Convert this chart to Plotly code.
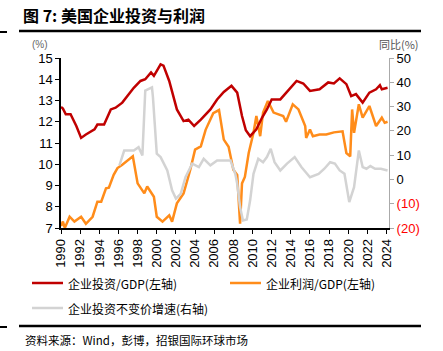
import plotly.graph_objects as go

# ---- data ----
inv_x = [1990.0, 1990.2, 1990.5, 1991.0, 1991.6, 1992.1, 1992.6, 1993.0, 1993.5, 1993.8, 1994.5,
         1995.2, 1995.7, 1996.4, 1997.1, 1997.6, 1998.3, 1998.8, 1999.4, 1999.7, 2000.4, 2000.7,
         2001.3, 2002.1, 2002.8, 2003.3, 2003.9, 2004.6, 2005.6, 2006.3, 2007.0, 2007.8, 2008.4,
         2008.9, 2009.3, 2009.75, 2010.4, 2011.0, 2011.5, 2012.0, 2012.9, 2013.7, 2014.6, 2015.3,
         2016.0, 2017.0, 2017.9, 2018.5, 2019.1, 2019.8, 2020.3, 2020.8, 2021.5, 2022.2, 2022.9,
         2023.3, 2023.5, 2024.1]
inv_y = [12.7, 12.62, 12.35, 12.35, 11.8, 11.24, 11.4, 11.5, 11.64, 11.87, 11.87,
         12.58, 12.66, 12.9, 13.3, 13.6, 13.92, 14.0, 14.32, 14.16, 14.7, 14.64,
         13.92, 12.58, 12.03, 12.1, 11.8, 12.1, 12.58, 13.05, 13.4, 13.69, 13.37,
         12.27, 11.6, 11.32, 11.64, 12.2, 12.58, 13.05, 13.05, 13.45, 13.92, 13.8,
         13.45, 13.53, 13.85, 13.8, 14.04, 13.77, 13.21, 13.3, 12.9, 13.37, 13.53,
         13.72, 13.53, 13.6]

prof_x = [1990.0, 1990.2, 1990.4, 1990.9, 1991.4, 1992.1, 1992.6, 1993.3, 1993.8, 1994.2, 1994.7,
          1995.0, 1995.5, 1995.9, 1996.4, 1997.0, 1997.5, 1998.0, 1998.7, 1999.0, 1999.7, 2000.0,
          2000.6, 2001.3, 2001.6, 2002.1, 2002.8, 2003.5, 2004.0, 2004.6, 2005.1, 2005.9, 2006.5,
          2007.0, 2007.5, 2008.0, 2008.4, 2008.7, 2008.9, 2009.2, 2009.6, 2010.1, 2010.4, 2010.8,
          2011.1, 2011.6, 2012.2, 2013.2, 2013.5, 2014.2, 2014.8, 2015.5, 2015.6, 2016.0, 2016.3,
          2017.0, 2017.7, 2018.5, 2019.4, 2019.8, 2020.2, 2020.4, 2020.6, 2021.1, 2021.5, 2022.2,
          2022.9, 2023.5, 2023.8, 2024.1]
prof_y = [7.1, 7.3, 7.0, 7.53, 7.3, 7.53, 7.2, 7.53, 8.24, 8.24, 8.87,
          8.9, 9.5, 9.82, 9.98, 10.2, 10.37, 9.1, 8.63, 8.95, 8.47, 7.53,
          7.3, 7.6, 7.3, 8.16, 8.63, 9.74, 10.69, 10.84, 11.62, 12.4, 12.55,
          11.16, 10.82, 9.74, 9.5, 7.2, 9.1, 9.4, 10.53, 11.48, 12.27, 11.32,
          12.43, 12.98, 12.43, 12.27, 12.0, 12.82, 12.58, 11.8, 11.24, 11.64, 11.32,
          11.4, 11.4, 11.5, 11.55, 10.53, 10.37, 12.58, 11.48, 12.82, 12.19, 12.74,
          11.8, 12.19, 11.95, 12.0]

grow_x = [1996.1, 1996.6, 1997.1, 1997.6, 1998.1, 1998.5, 1998.8, 1999.2, 1999.5, 1999.6, 2000.0,
          2000.4, 2001.1, 2001.6, 2002.0, 2002.5, 2003.0, 2003.7, 2004.4, 2004.9, 2005.6, 2006.3,
          2007.7, 2008.2, 2008.4, 2008.7, 2009.0, 2009.4, 2009.75, 2010.1, 2010.6, 2011.1, 2011.5,
          2011.9, 2012.3, 2012.9, 2013.6, 2014.4, 2015.1, 2016.0, 2016.9, 2017.5, 2018.1, 2018.6,
          2019.1, 2019.6, 2020.1, 2020.6, 2020.8, 2021.1, 2021.5, 2021.9, 2022.3, 2022.8, 2023.4,
          2024.1]
grow_y = [5.8, 11.9, 11.9, 11.9, 13.3, 9.9, 36.6, 37.3, 37.9, 33.9, 10.6,
          9.2, 3.7, -4.5, -7.9, -5.9, 0.9, 6.5, 5.1, 8.5, 5.8, 7.8,
          7.8, 2.3, -1.8, -11.4, -16.9, -16.5, -8.6, 2.3, 8.5, 7.1, 9.2,
          12.6, 7.1, 3.7, 6.5, 9.2, 5.1, 0.9, 2.3, 4.4, 7.1, 6.5,
          3.7, 2.3, -9.3, -3.2, 2.3, 11.9, 5.1, 4.4, 5.5, 4.4, 4.4,
          3.7]

year_ticks = list(range(1990, 2025, 2))
left_ticks = list(range(7, 16))
right_ticks = [-20, -10, 0, 10, 20, 30, 40, 50]
right_labels = ['<span style="color:#FF0000">(20)</span>', '<span style="color:#FF0000">(10)</span>',
                '0', '10', '20', '30', '40', '50']

names = ["企业投资/GDP(左轴)", "企业利润/GDP(左轴)", "企业投资不变价增速(右轴)"]
colors = ["#C00000", "#FF8C1A", "#D3D3D3"]

CJK = "Noto Sans CJK SC"
LAT = "Liberation Sans, Arial"

# plot-area geometry in pixels (for placing page furniture)
L, R, T, B = 61, 389, 58, 228
W, H = 443, 351


def px(x):
    return (x - L) / (R - L)


def py(y):
    return (B - y) / (B - T)


fig = go.Figure()
fig.add_trace(go.Scatter(x=grow_x, y=grow_y, name=names[2], mode="lines", yaxis="y2",
                         line=dict(color=colors[2], width=2.5)))
fig.add_trace(go.Scatter(x=prof_x, y=prof_y, name=names[1], mode="lines",
                         line=dict(color=colors[1], width=2.5)))
fig.add_trace(go.Scatter(x=inv_x, y=inv_y, name=names[0], mode="lines",
                         line=dict(color=colors[0], width=2.5)))

fig.update_layout(
    width=W, height=H,
    margin=dict(l=L, r=W - R, t=T, b=H - B, autoexpand=False),
    paper_bgcolor="white", plot_bgcolor="white",
    font=dict(family=LAT, size=13, color="#000000"),
    showlegend=False,
    xaxis=dict(range=[1990, 2024.25], tickvals=year_ticks, ticktext=[str(t) for t in year_ticks],
               tickangle=-90, showgrid=False, zeroline=False, showline=True, linecolor="#000000",
               linewidth=1.5, ticks="outside", ticklen=4, tickcolor="#000000", automargin=False,
               tickfont=dict(family=LAT, size=13)),
    yaxis=dict(range=[7, 15], tickvals=left_ticks, showgrid=False, zeroline=False, showline=True,
               linecolor="#000000", linewidth=1.5, ticks="outside", ticklen=4, tickcolor="#000000",
               automargin=False, tickfont=dict(family=LAT, size=13)),
    yaxis2=dict(range=[-20, 50], overlaying="y", side="right", tickvals=right_ticks,
                ticktext=right_labels, showgrid=False, zeroline=False, showline=True,
                linecolor="#AAAAAA", linewidth=1, ticks="outside", ticklen=4, tickcolor="#AAAAAA",
                automargin=False, tickfont=dict(family=LAT, size=13)),
)

# manual legend (line sample + label), matching the reference layout
legend_pos = [(32, 283), (230, 283), (32, 308)]
for (lx, ly), name, col in zip(legend_pos, names, colors):
    fig.add_shape(type="line", xref="paper", yref="paper",
                  x0=px(lx), x1=px(lx + 31), y0=py(ly), y1=py(ly),
                  line=dict(color=col, width=2.5))
    fig.add_annotation(xref="paper", yref="paper", x=px(lx + 34), y=py(ly),
                       xanchor="left", yanchor="middle", showarrow=False, text=name,
                       font=dict(family=CJK, size=12, color="#000"))

# title, units, source
fig.add_annotation(xref="paper", yref="paper", x=px(21), y=py(15),
                   xanchor="left", yanchor="middle", showarrow=False,
                   text="<b>图 7: 美国企业投资与利润</b>", font=dict(family=CJK, size=16, color="#000"))
fig.add_annotation(xref="paper", yref="paper", x=px(40), y=py(44),
                   xanchor="center", yanchor="middle", showarrow=False,
                   text="(%)", font=dict(family=LAT, size=10, color="#666666"))
fig.add_annotation(xref="paper", yref="paper", x=px(421), y=py(44),
                   xanchor="right", yanchor="middle", showarrow=False,
                   text="同比(%)", font=dict(family=CJK, size=11, color="#555555"))
fig.add_annotation(xref="paper", yref="paper", x=px(23), y=py(340),
                   xanchor="left", yanchor="middle", showarrow=False,
                   text="资料来源：Wind，彭博，招银国际环球市场",
                   font=dict(family=CJK, size=11.5, color="#000"))

# rules under title and above source
for yy in (31, 326):
    fig.add_shape(type="line", xref="paper", yref="paper",
                  x0=px(19), x1=px(421), y0=py(yy), y1=py(yy),
                  line=dict(color="#000000", width=2.5))
    fig.add_shape(type="line", xref="paper", yref="paper",
                  x0=px(0), x1=px(7), y0=py(yy + 1), y1=py(yy + 1),
                  line=dict(color="#000000", width=2))

fig.write_html("out.html")
